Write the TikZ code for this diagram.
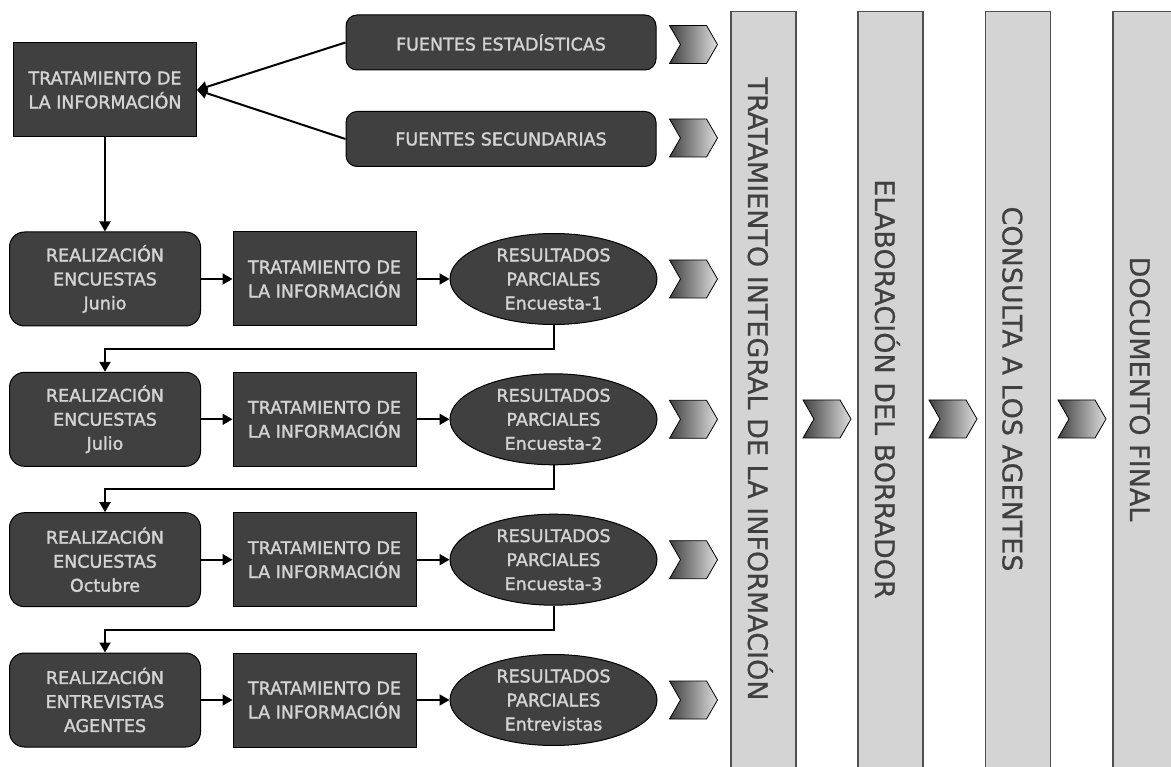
\documentclass[tikz,border=0pt]{standalone}
\usepackage{fontspec}
\setmainfont{DejaVu Sans}
\newfontfamily\boxfont[FakeBold=1.6]{DejaVu Sans}
\newfontfamily\barfont[FakeBold=0.6]{DejaVu Sans}
\usepackage{tikz}
\usetikzlibrary{arrows.meta,shapes.geometric,shapes.symbols}
\definecolor{boxgray}{RGB}{64,64,64}
\definecolor{txtgray}{RGB}{212,212,212}
\definecolor{bargray}{RGB}{212,212,212}
\definecolor{barline}{RGB}{80,80,80}
\definecolor{chevlight}{RGB}{222,222,222}

\begin{document}
\begin{tikzpicture}[x=1pt,y=-1pt,
  dark/.style={draw=black,line width=1pt,fill=boxgray,text=txtgray,align=center,
    font=\boxfont\fontsize{17.5}{24}\selectfont,inner sep=0pt},
  sqbox/.style={dark,rectangle,minimum width=183pt,minimum height=94pt},
  rdbox/.style={dark,rectangle,rounded corners=15pt,minimum width=191pt,minimum height=94pt},
  srcbox/.style={dark,rectangle,rounded corners=11pt,minimum width=310pt,minimum height=55pt},
  result/.style={dark,ellipse,minimum width=207pt,minimum height=91pt},
  chev/.style={signal,signal from=west,signal to=east,signal pointer angle=120,
    draw=black,line width=0.8pt,left color=boxgray,right color=chevlight,
    minimum width=48pt,minimum height=38pt,inner sep=0pt},
  bar/.style={draw=barline,line width=1.2pt,fill=bargray,minimum width=65pt,
    minimum height=790pt,anchor=north,inner sep=0pt},
  bartext/.style={rotate=-90,anchor=base,text=boxgray,font=\barfont\fontsize{27}{32}\selectfont},
  conn/.style={line width=2pt,-{Triangle[length=10pt,width=11pt]}}]
\useasboundingbox (0,0) rectangle (1171,767);
\clip (0,0) rectangle (1171,767);

\node[bar] (B1) at (763.5,11) {};
\node[bar] (B2) at (890.5,11) {};
\node[bar] (B3) at (1018,11) {};
\node[bar] (B4) at (1145.5,11) {};
\node[bartext] (L1) at (748,389) {TRATAMIENTO INTEGRAL DE LA INFORMACIÓN};
\node[bartext] (L2) at (875,389) {ELABORACIÓN DEL BORRADOR};
\node[bartext] (L3) at (1002.5,389) {CONSULTA A LOS AGENTES};
\node[bartext] (L4) at (1130,389) {DOCUMENTO FINAL};

\node[sqbox] (TI) at (105,90) {TRATAMIENTO DE\\LA INFORMACIÓN};
\node[srcbox] (FE) at (501,42.5) {FUENTES ESTADÍSTICAS};
\node[srcbox] (FS) at (501,139) {FUENTES SECUNDARIAS};
\draw[conn] (FE.west) -- (TI.east);
\draw[conn] (FS.west) -- (TI.east);

\node[rdbox] (R1) at (105,279) {REALIZACIÓN\\ENCUESTAS\\Junio};
\node[sqbox] (T1) at (324.5,279) {TRATAMIENTO DE\\LA INFORMACIÓN};
\node[result] (E1) at (553.5,279) {RESULTADOS\\PARCIALES\\Encuesta-1};
\node[rdbox] (R2) at (105,419.3) {REALIZACIÓN\\ENCUESTAS\\Julio};
\node[sqbox] (T2) at (324.5,419.3) {TRATAMIENTO DE\\LA INFORMACIÓN};
\node[result] (E2) at (553.5,419.3) {RESULTADOS\\PARCIALES\\Encuesta-2};
\node[rdbox] (R3) at (105,559.7) {REALIZACIÓN\\ENCUESTAS\\Octubre};
\node[sqbox] (T3) at (324.5,559.7) {TRATAMIENTO DE\\LA INFORMACIÓN};
\node[result] (E3) at (553.5,559.7) {RESULTADOS\\PARCIALES\\Encuesta-3};
\node[rdbox] (R4) at (105,700) {REALIZACIÓN\\ENTREVISTAS\\AGENTES};
\node[sqbox] (T4) at (324.5,700) {TRATAMIENTO DE\\LA INFORMACIÓN};
\node[result] (E4) at (553.5,700) {RESULTADOS\\PARCIALES\\Entrevistas};

\draw[conn] (TI.south) -- (R1.north);
\draw[conn] (R1) -- (T1);
\draw[conn] (T1) -- (E1);
\draw[conn] (R2) -- (T2);
\draw[conn] (T2) -- (E2);
\draw[conn] (R3) -- (T3);
\draw[conn] (T3) -- (E3);
\draw[conn] (R4) -- (T4);
\draw[conn] (T4) -- (E4);
\draw[conn] (E1.south) -- ++(0,24) -| (R2.north);
\draw[conn] (E2.south) -- ++(0,24) -| (R3.north);
\draw[conn] (E3.south) -- ++(0,24) -| (R4.north);

\node[chev] (C1) at (693.5,44.5) {};
\node[chev] (C2) at (693.5,138) {};
\node[chev] (C3) at (693.5,279) {};
\node[chev] (C4) at (693.5,419.3) {};
\node[chev] (C5) at (693.5,559.7) {};
\node[chev] (C6) at (693.5,700) {};
\node[chev] (C7) at (827,419) {};
\node[chev] (C8) at (953,419) {};
\node[chev] (C9) at (1082,419) {};
\end{tikzpicture}
\end{document}
